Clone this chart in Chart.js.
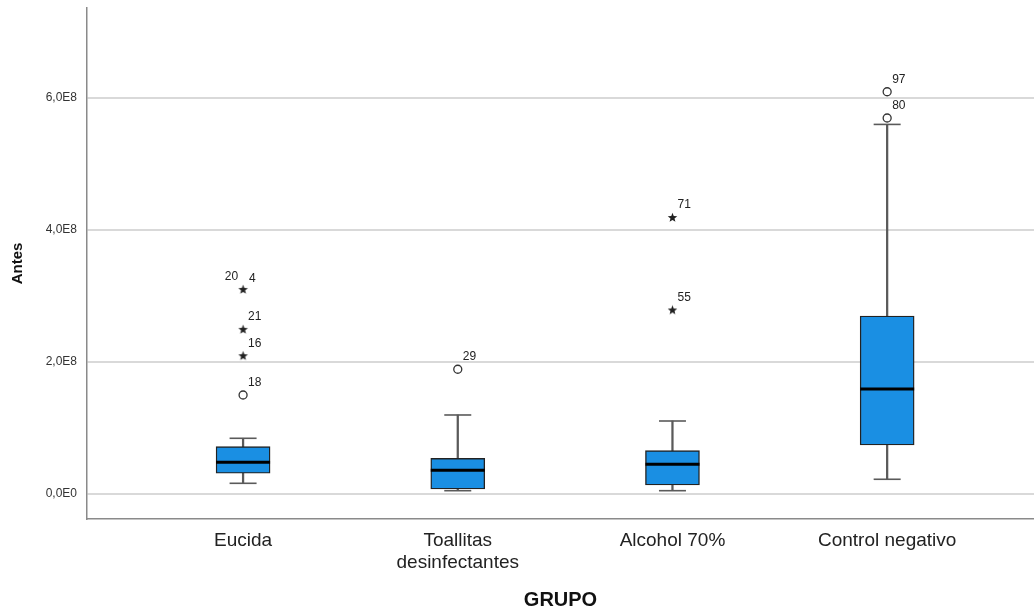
<!DOCTYPE html>
<html><head><meta charset="utf-8">
<script src="https://cdn.jsdelivr.net/npm/chart.js@4/dist/chart.umd.min.js"></script>
<style>html,body{margin:0;padding:0;background:#fff}#wrap{width:1034px;height:615px}</style>
</head><body><div id="wrap"><canvas id="c" width="1034" height="615"></canvas></div>
<script>
// ---- data ----
const categories = ['Eucida', ['Toallitas', 'desinfectantes'], 'Alcohol 70%', 'Control negativo'];
const whiskerLow  = [16.2e6, 5.0e6, 5.0e6, 22.3e6];
const q1          = [31.4e6, 7.6e6, 13.6e6, 74.2e6];
const median      = [48.0e6, 35.9e6, 45.0e6, 159.0e6];
const q3          = [71.7e6, 54.0e6, 65.6e6, 269.7e6];
const whiskerHigh = [84.4e6, 119.7e6, 110.6e6, 560.0e6];
// outliers (circles) and extreme values (stars)
const circleGroup = [0, 1, 3, 3];
const circleValue = [150e6, 189e6, 609.5e6, 569.7e6];
const circleLabel = ['18', '29', '97', '80'];
const starGroup = [0, 0, 0, 2, 2];
const starValue = [310e6, 249.5e6, 209.5e6, 419e6, 278.8e6];
const starLabel = [['20', '4'], '21', '16', '71', '55'];
const yTicks = [0, 2e8, 4e8, 6e8];

// ---- helpers ----
function fmtE(v) {
  if (v === 0) return '0,0E0';
  const e = Math.floor(Math.log10(Math.abs(v)));
  return (v / Math.pow(10, e)).toFixed(1).replace('.', ',') + 'E' + e;
}
function makeStar() {
  const c = document.createElement('canvas');
  c.width = 11; c.height = 11;
  const g = c.getContext('2d');
  g.fillStyle = '#222';
  g.beginPath();
  for (let i = 0; i < 10; i++) {
    const r = i % 2 === 0 ? 5 : 2.1;
    const a = -Math.PI / 2 + i * Math.PI / 5;
    const px = 5.5 + r * Math.cos(a), py = 5.8 + r * Math.sin(a);
    if (i === 0) g.moveTo(px, py); else g.lineTo(px, py);
  }
  g.closePath(); g.fill();
  return c;
}
const starImg = makeStar();

const idx = categories.map((_, i) => i);
const FONT = "'Liberation Sans', Arial, sans-serif";

const labelPlugin = {
  id: 'outlierLabels',
  afterDatasetsDraw(chart) {
    const ctx = chart.ctx;
    ctx.save();
    ctx.font = '12px ' + FONT;
    ctx.fillStyle = '#222';
    ctx.textBaseline = 'alphabetic';
    chart.data.datasets.forEach((ds, di) => {
      if (!ds.outlierLabels) return;
      const meta = chart.getDatasetMeta(di);
      meta.data.forEach((el, i) => {
        const lab = ds.outlierLabels[i];
        const x = el.x, y = el.y;
        if (Array.isArray(lab)) {
          ctx.textAlign = 'right';
          ctx.fillText(lab[0], x - 5, y - 9);
          ctx.textAlign = 'left';
          ctx.fillText(lab[1], x + 6, y - 7);
        } else {
          ctx.textAlign = 'left';
          ctx.fillText(lab, x + 5, y - 9);
        }
      });
    });
    ctx.restore();
  }
};

new Chart(document.getElementById('c'), {
  type: 'bar',
  data: {
    datasets: [
      {
        type: 'scatter', label: 'outliers', order: 0,
        data: circleGroup.map((g, i) => ({ x: g, y: circleValue[i] })),
        outlierLabels: circleLabel,
        pointStyle: 'circle', pointRadius: 4, pointBorderWidth: 1.3,
        pointBorderColor: '#333', pointBackgroundColor: '#fff'
      },
      {
        type: 'scatter', label: 'extremes', order: 1,
        data: starGroup.map((g, i) => ({ x: g, y: starValue[i] })),
        outlierLabels: starLabel,
        pointStyle: starImg, pointRadius: 5
      },
      {
        type: 'scatter', label: 'median', order: 2,
        data: idx.map(i => ({ x: i, y: median[i] })),
        pointStyle: 'line', pointRadius: 27, pointBorderWidth: 3, pointBorderColor: '#000'
      },
      {
        type: 'scatter', label: 'caps', order: 3,
        data: idx.map(i => ({ x: i, y: whiskerLow[i] })).concat(idx.map(i => ({ x: i, y: whiskerHigh[i] }))),
        pointStyle: 'line', pointRadius: 13.5, pointBorderWidth: 1.6, pointBorderColor: '#5a5a5a'
      },
      {
        type: 'bar', label: 'box', order: 4, grouped: false,
        data: idx.map(i => ({ x: i, y: [q1[i], q3[i]] })),
        backgroundColor: '#1a8fe3', borderColor: '#222', borderWidth: 1.4,
        borderSkipped: false, barThickness: 54
      },
      {
        type: 'bar', label: 'whisker', order: 5, grouped: false,
        data: idx.map(i => ({ x: i, y: [whiskerLow[i], whiskerHigh[i]] })),
        backgroundColor: '#5a5a5a', borderWidth: 0, barThickness: 1.6
      }
    ]
  },
  options: {
    responsive: false, animation: false, devicePixelRatio: 1,
    layout: { autoPadding: false, padding: { top: 8, right: 0, left: 0, bottom: 0 } },
    plugins: { legend: { display: false }, tooltip: { enabled: false } },
    scales: {
      x: {
        type: 'linear', min: -0.727, max: 3.684, offset: false,
        afterBuildTicks: s => { s.ticks = idx.map(i => ({ value: i })); },
        afterFit: s => { s.height = 96; s.paddingLeft = 0; s.paddingRight = 0; },
        ticks: {
          callback: v => categories[v], font: { size: 19, family: FONT }, color: '#222',
          padding: 10, maxRotation: 0, autoSkip: false
        },
        grid: { display: false, drawTicks: false },
        border: { display: true, color: '#8a8a8a', width: 1.5 },
        title: { display: true, text: 'GRUPO', font: { size: 20, weight: 'bold', family: FONT }, color: '#111', padding: { top: 0, bottom: 3 } }
      },
      y: {
        type: 'linear', min: -37.9e6, max: 736.4e6, offset: false,
        afterBuildTicks: s => { s.ticks = yTicks.map(v => ({ value: v })); },
        afterFit: s => { s.width = 87; s.paddingTop = 0; s.paddingBottom = 0; },
        ticks: { callback: v => fmtE(v), font: { size: 12, family: FONT }, color: '#333', padding: 10 },
        grid: { color: '#d9d9d9', lineWidth: 2, drawTicks: false },
        border: { display: true, color: '#8a8a8a', width: 1.5 },
        title: { display: true, text: 'Antes', font: { size: 15, weight: 'bold', family: FONT }, color: '#111', padding: { top: 9, bottom: 0 } }
      }
    }
  },
  plugins: [labelPlugin]
});
</script></body></html>
